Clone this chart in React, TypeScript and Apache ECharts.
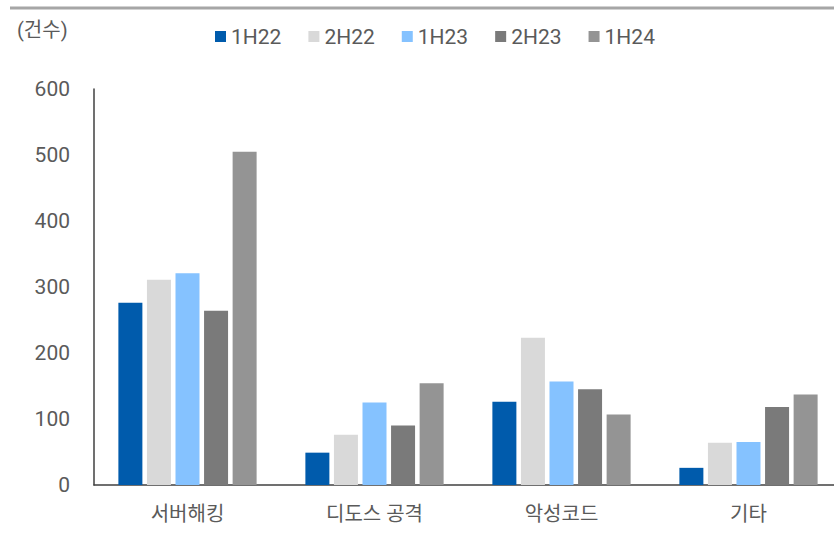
import React, { useEffect, useRef } from "react";
import * as echarts from "echarts";

const categories = ["서버해킹", "디도스 공격", "악성코드", "기타"];
const seriesNames = ["1H22", "2H22", "1H23", "2H23", "1H24"];
const v1H22 = [276, 49, 126, 26];
const v2H22 = [311, 76, 223, 64];
const v1H23 = [321, 125, 157, 65];
const v2H23 = [264, 90, 145, 118];
const v1H24 = [505, 154, 107, 137];
const yTicks = [0, 100, 200, 300, 400, 500, 600];

const seriesValues = [v1H22, v2H22, v1H23, v2H23, v1H24];
const colors = ["#005BAC", "#D9D9D9", "#85C2FF", "#7A7A7A", "#949494"];

const FONT = "Roboto, 'Noto Sans CJK KR', sans-serif";
const TXT = "#5A5A5A";
const W = 400;

export default function App() {
  const ref = useRef<HTMLDivElement>(null);
  useEffect(() => {
    if (!ref.current) return;
    const chart = echarts.init(ref.current, undefined, { renderer: "svg" });
    chart.setOption({
      animation: false,
      backgroundColor: "#fff",
      textStyle: { fontFamily: FONT },
      graphic: [
        {
          type: "line",
          shape: { x1: 10, y1: 8, x2: 834, y2: 8 },
          style: { stroke: "#A6A6A6", lineWidth: 3 },
        },
        {
          type: "text",
          x: 17,
          y: 30,
          style: {
            text: "(건수)",
            fill: TXT,
            font: `${W} 20px ${FONT}`,
            textVerticalAlign: "middle",
          },
        },
      ],
      legend: {
        data: seriesNames,
        top: 21,
        left: 210,
        itemWidth: 11,
        itemHeight: 11,
        itemGap: 27,
        icon: "rect",
        textStyle: { fontSize: 21, fontWeight: W, color: TXT, fontFamily: FONT },
      },
      grid: { left: 94, right: 0, top: 89, bottom: 49, containLabel: false },
      xAxis: {
        type: "category",
        data: categories,
        axisLine: { lineStyle: { color: "#404040", width: 1.5 } },
        axisTick: { show: false },
        axisLabel: { fontSize: 20, fontWeight: W, color: TXT, margin: 19, fontFamily: FONT },
      },
      yAxis: {
        type: "value",
        min: 0,
        max: 600,
        interval: 100,
        axisLine: { show: true, lineStyle: { color: "#404040", width: 1.5 } },
        axisTick: { show: false },
        splitLine: { show: false },
        axisLabel: {
          fontSize: 21,
          fontWeight: W,
          color: TXT,
          margin: 24,
          fontFamily: FONT,
          customValues: yTicks,
        },
      },
      series: seriesNames.map((name, i) => ({
        name,
        type: "bar",
        data: seriesValues[i],
        barWidth: 24,
        barGap: "19%",
        itemStyle: { color: colors[i] },
      })),
    });
    return () => chart.dispose();
  }, []);
  return (
    <div style={{ width: 834, height: 534, position: "absolute", left: 0, top: 0, overflow: "hidden", background: "#fff" }}>
      <div ref={ref} style={{ width: 842, height: 534 }} />
    </div>
  );
}
